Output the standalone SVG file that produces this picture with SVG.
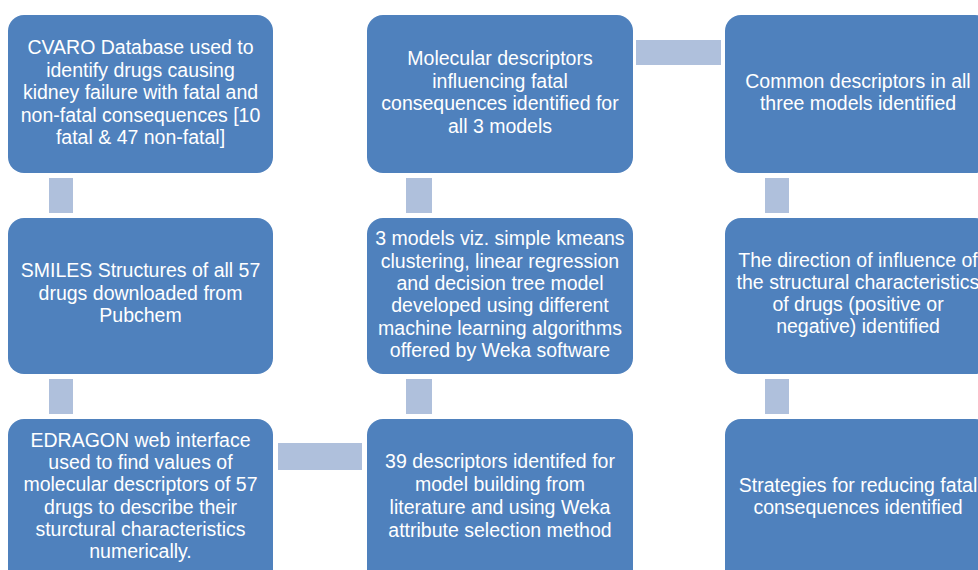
<svg xmlns="http://www.w3.org/2000/svg" width="978" height="570" viewBox="0 0 978 570">
<style>
.box{fill:#4F81BD;}
.con{fill:#AFC0DC;}
text{font-family:"Liberation Sans",Arial,sans-serif;font-size:19.5px;fill:#FFFFFF;text-anchor:middle;}
</style>
<rect width="978" height="570" fill="#FFFFFF"/>
<g id="connectors">
<rect class="con" x="49" y="178" width="24" height="35"/>
<rect class="con" x="49" y="379" width="24" height="35"/>
<rect class="con" x="278" y="443" width="84" height="27"/>
<rect class="con" x="406" y="379" width="26" height="35"/>
<rect class="con" x="406" y="178" width="26" height="35"/>
<rect class="con" x="636" y="40" width="85" height="25"/>
<rect class="con" x="765" y="178" width="24" height="35"/>
<rect class="con" x="765" y="379" width="24" height="35"/>
</g>
<g id="n1">
<rect class="box" x="8" y="15" width="265" height="158" rx="16"/>
<text x="140.5" y="54">CVARO Database used to</text>
<text x="140.5" y="76.5">identify drugs  causing</text>
<text x="140.5" y="99">kidney failure with fatal and</text>
<text x="140.5" y="121.5">non-fatal consequences [10</text>
<text x="140.5" y="144">fatal &amp; 47 non-fatal]</text>
</g>
<g id="n2">
<rect class="box" x="8" y="218" width="265" height="156" rx="16"/>
<text x="140.5" y="277">SMILES Structures of all 57</text>
<text x="140.5" y="299.5">drugs downloaded from</text>
<text x="140.5" y="322">Pubchem</text>
</g>
<g id="n3">
<rect class="box" x="8" y="419" width="265" height="170" rx="16"/>
<text x="140.5" y="447">EDRAGON web interface</text>
<text x="140.5" y="469">used to find values of</text>
<text x="140.5" y="491">molecular descriptors of 57</text>
<text x="140.5" y="513.5">drugs  to describe their</text>
<text x="140.5" y="536">sturctural characteristics</text>
<text x="140.5" y="558">numerically.</text>
</g>
<g id="n4">
<rect class="box" x="367" y="419" width="266" height="170" rx="16"/>
<text x="500" y="468">39 descriptors identifed for</text>
<text x="500" y="491">model building from</text>
<text x="500" y="514">literature and  using Weka</text>
<text x="500" y="537">attribute selection method</text>
</g>
<g id="n5">
<rect class="box" x="367" y="218" width="266" height="156" rx="16"/>
<text x="500" y="245">3 models viz. simple kmeans</text>
<text x="500" y="267.5">clustering, linear regression</text>
<text x="500" y="290">and decision tree model</text>
<text x="500" y="312">developed using different</text>
<text x="500" y="334.5">machine learning algorithms</text>
<text x="500" y="357">offered by Weka software</text>
</g>
<g id="n6">
<rect class="box" x="367" y="15" width="266" height="158" rx="16"/>
<text x="500" y="65">Molecular descriptors</text>
<text x="500" y="87.5">influencing fatal</text>
<text x="500" y="110">consequences identified for</text>
<text x="500" y="132.5">all 3 models</text>
</g>
<g id="n7">
<rect class="box" x="725" y="15" width="266" height="158" rx="16"/>
<text x="858" y="88">Common descriptors in all</text>
<text x="858" y="110">three models identified</text>
</g>
<g id="n8">
<rect class="box" x="725" y="218" width="266" height="156" rx="16"/>
<text x="858" y="267">The direction of influence of</text>
<text x="858" y="289">the structural characteristics</text>
<text x="858" y="311">of drugs (positive or</text>
<text x="858" y="333">negative) identified</text>
</g>
<g id="n9">
<rect class="box" x="725" y="419" width="266" height="170" rx="16"/>
<text x="858" y="492">Strategies for reducing fatal</text>
<text x="858" y="514">consequences identified</text>
</g>
</svg>
